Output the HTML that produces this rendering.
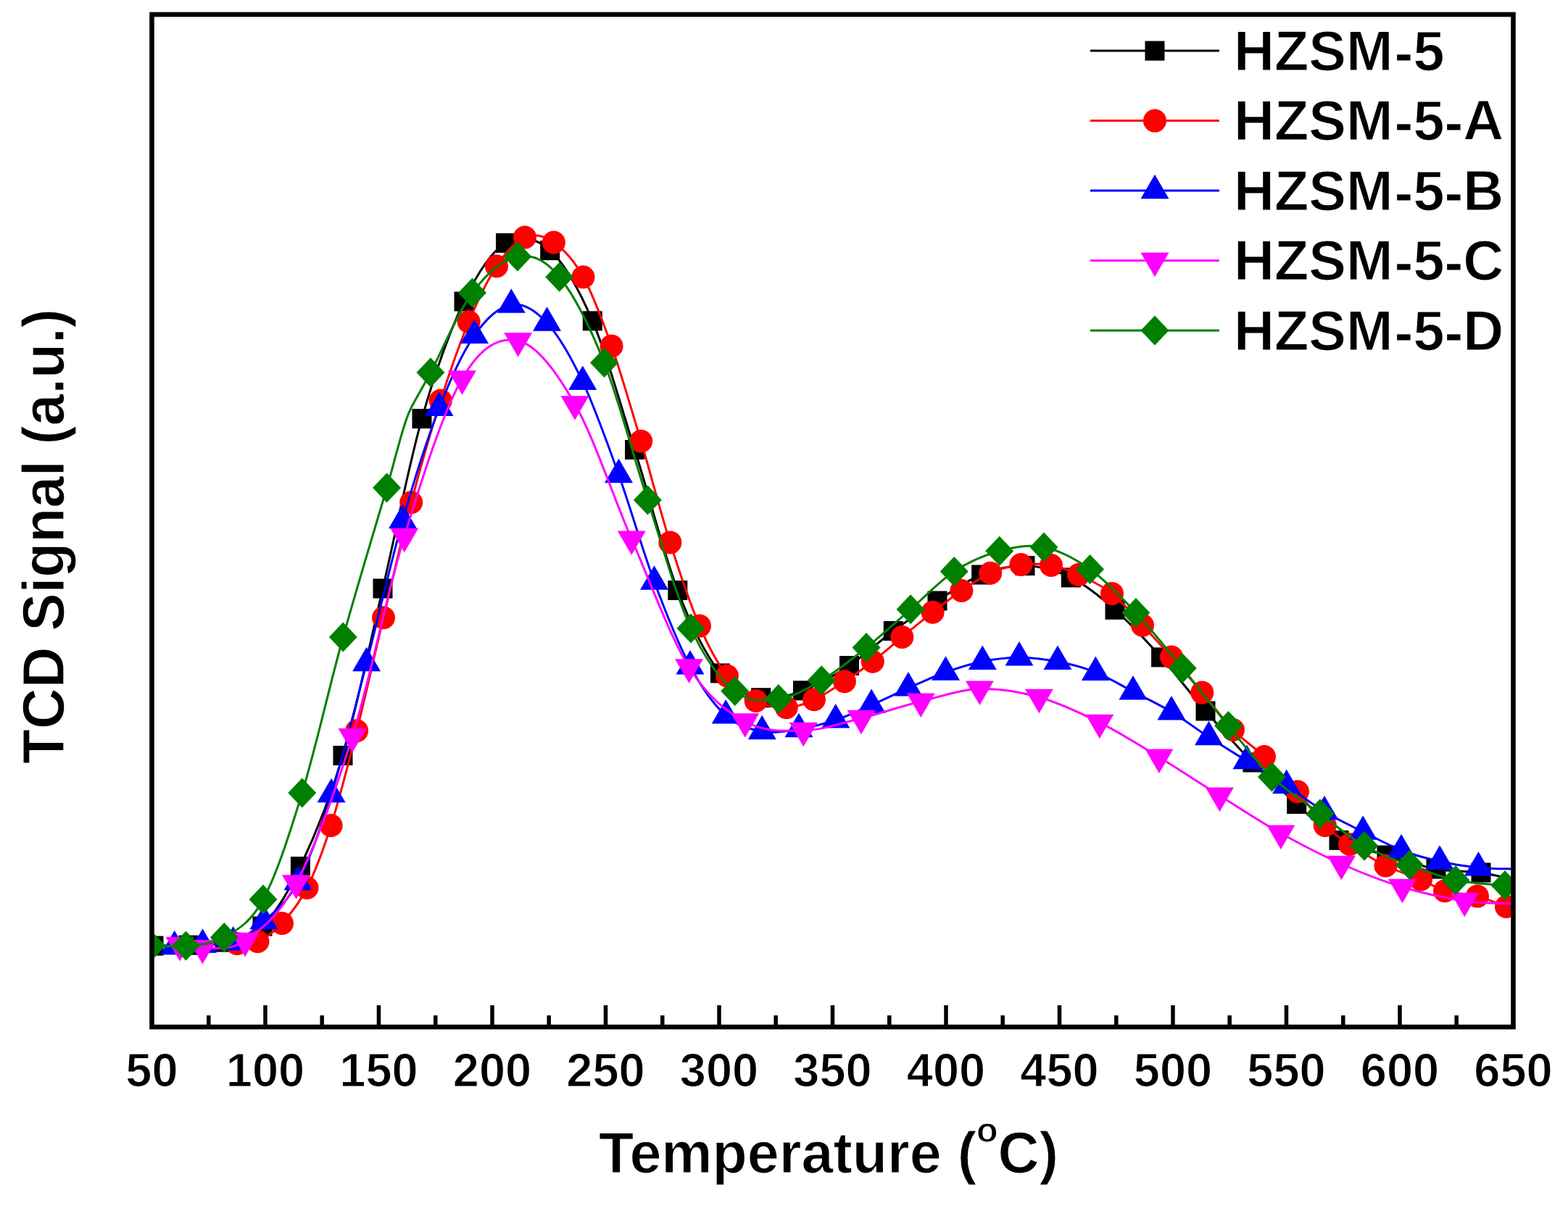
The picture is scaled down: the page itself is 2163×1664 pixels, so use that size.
<!DOCTYPE html><html><head><meta charset="utf-8"><title>TCD Signal vs Temperature</title><style>html,body{margin:0;padding:0;background:#fff;overflow:hidden}svg{display:block}</style></head><body><svg width="2163" height="1664" viewBox="0 0 2163 1664"><rect width="100%" height="100%" fill="#fff"/><defs><clipPath id="pc"><rect x="209.5" y="20.0" width="1878.0" height="1397.0"/></clipPath></defs><g clip-path="url(#pc)"><path d="M212.0,1305.0 C220.0,1304.8 243.7,1304.8 260.0,1304.0 C276.3,1303.2 293.0,1304.3 310.0,1300.0 C327.0,1295.7 344.6,1295.4 362.0,1278.0 C379.4,1260.6 395.9,1234.8 414.4,1195.5 C432.9,1156.2 454.1,1106.4 473.0,1042.5 C491.9,978.6 509.8,889.5 528.0,812.0 C546.2,734.5 563.3,643.7 582.0,577.7 C600.7,511.7 620.8,456.4 640.0,416.0 C659.2,375.6 677.7,347.1 697.5,335.3 C717.3,323.6 738.8,327.6 758.8,345.5 C778.7,363.4 797.8,397.0 817.3,442.8 C836.8,488.6 856.0,558.5 875.6,620.5 C895.2,682.5 915.2,763.1 934.8,814.5 C954.4,865.9 974.2,904.2 993.4,928.9 C1012.5,953.6 1030.7,958.7 1049.7,962.7 C1068.7,966.7 1087.2,960.2 1107.5,952.8 C1127.8,945.4 1150.7,932.2 1171.5,918.5 C1192.3,904.8 1212.0,885.4 1232.3,870.5 C1252.5,855.6 1272.8,841.9 1293.0,829.0 C1313.2,816.1 1333.6,801.1 1353.8,793.0 C1373.9,784.9 1393.4,780.0 1414.0,780.6 C1434.6,781.2 1456.6,786.8 1477.3,796.9 C1498.0,807.0 1517.3,822.9 1538.0,841.2 C1558.7,859.6 1580.8,883.6 1601.6,906.9 C1622.4,930.2 1641.9,956.8 1663.0,981.0 C1684.1,1005.2 1707.0,1030.6 1728.0,1052.0 C1749.0,1073.4 1768.9,1091.5 1788.8,1109.4 C1808.6,1127.3 1826.3,1147.5 1847.0,1159.3 C1867.7,1171.1 1890.7,1173.4 1913.0,1180.0 C1935.3,1186.6 1959.3,1195.0 1981.0,1199.0 C2002.7,1203.0 2025.2,1201.5 2043.0,1204.0 C2060.8,1206.5 2080.1,1212.3 2087.5,1214.0" fill="none" stroke="#000000" stroke-width="3" stroke-linejoin="round"/><g fill="#000000"><rect x="198.5" y="1291.5" width="27" height="27"/><rect x="246.5" y="1290.5" width="27" height="27"/><rect x="296.5" y="1286.5" width="27" height="27"/><rect x="348.5" y="1264.5" width="27" height="27"/><rect x="400.9" y="1182.0" width="27" height="27"/><rect x="459.5" y="1029.0" width="27" height="27"/><rect x="514.5" y="798.5" width="27" height="27"/><rect x="568.5" y="564.2" width="27" height="27"/><rect x="626.5" y="402.5" width="27" height="27"/><rect x="684.0" y="321.8" width="27" height="27"/><rect x="745.2" y="332.0" width="27" height="27"/><rect x="803.8" y="429.3" width="27" height="27"/><rect x="862.1" y="607.0" width="27" height="27"/><rect x="921.3" y="801.0" width="27" height="27"/><rect x="979.9" y="915.4" width="27" height="27"/><rect x="1036.2" y="949.2" width="27" height="27"/><rect x="1094.0" y="939.3" width="27" height="27"/><rect x="1158.0" y="905.0" width="27" height="27"/><rect x="1218.8" y="857.0" width="27" height="27"/><rect x="1279.5" y="815.5" width="27" height="27"/><rect x="1340.2" y="779.5" width="27" height="27"/><rect x="1400.5" y="767.1" width="27" height="27"/><rect x="1463.8" y="783.4" width="27" height="27"/><rect x="1524.5" y="827.8" width="27" height="27"/><rect x="1588.1" y="893.4" width="27" height="27"/><rect x="1649.5" y="967.5" width="27" height="27"/><rect x="1714.5" y="1038.5" width="27" height="27"/><rect x="1775.2" y="1095.9" width="27" height="27"/><rect x="1833.5" y="1145.8" width="27" height="27"/><rect x="1899.5" y="1166.5" width="27" height="27"/><rect x="1967.5" y="1185.5" width="27" height="27"/><rect x="2029.5" y="1190.5" width="27" height="27"/></g><path d="M327.0,1302.0 C331.8,1301.5 345.2,1303.7 355.5,1299.0 C365.8,1294.3 377.7,1286.3 389.0,1274.0 C400.3,1261.7 412.2,1247.5 423.5,1225.0 C434.8,1202.5 445.2,1175.1 456.6,1139.0 C468.0,1102.9 480.0,1056.1 492.1,1008.3 C504.2,960.5 516.5,904.7 529.0,852.2 C541.5,799.7 554.1,743.2 567.2,693.3 C580.3,643.4 594.5,594.2 607.8,552.7 C621.0,511.2 633.8,474.9 646.7,444.0 C659.6,413.1 672.1,386.7 685.0,367.3 C697.9,347.9 710.9,333.0 724.0,327.5 C737.1,322.0 750.5,325.4 763.9,334.5 C777.3,343.6 791.2,358.4 804.5,382.2 C817.8,406.0 830.3,439.7 843.6,477.5 C856.9,515.3 870.7,563.6 884.2,608.8 C897.7,653.9 910.9,706.1 924.4,748.6 C937.9,791.1 951.9,833.0 965.0,863.6 C978.1,894.2 990.0,915.3 1003.0,932.5 C1016.0,949.7 1029.1,959.6 1042.7,966.9 C1056.3,974.2 1071.4,976.5 1084.8,976.2 C1098.2,976.0 1109.6,971.3 1123.0,965.3 C1136.4,959.3 1151.5,949.0 1165.0,940.2 C1178.5,931.4 1190.5,922.9 1203.8,912.7 C1217.0,902.5 1230.6,890.3 1244.4,879.0 C1258.2,867.7 1272.9,855.4 1286.6,844.7 C1300.3,834.0 1313.1,824.0 1326.4,815.0 C1339.7,806.0 1352.6,796.8 1366.2,790.8 C1379.9,784.8 1394.4,780.8 1408.4,779.0 C1422.4,777.2 1436.7,777.7 1450.0,780.0 C1463.3,782.3 1474.0,786.5 1488.0,793.0 C1502.0,799.5 1519.3,807.4 1534.0,819.0 C1548.7,830.6 1562.3,848.2 1576.0,862.8 C1589.7,877.4 1602.3,891.1 1616.0,906.6 C1629.7,922.1 1644.1,938.9 1658.3,955.6 C1672.5,972.3 1686.7,992.3 1701.0,1007.0 C1715.3,1021.7 1729.2,1029.8 1744.0,1044.0 C1758.8,1058.2 1776.0,1076.4 1790.0,1092.2 C1804.0,1108.0 1815.8,1126.9 1827.8,1139.0 C1839.8,1151.1 1848.0,1155.8 1862.0,1165.0 C1876.0,1174.2 1895.2,1186.4 1911.5,1194.5 C1927.8,1202.6 1946.4,1207.6 1960.0,1213.4 C1973.6,1219.2 1980.0,1225.3 1993.0,1229.2 C2006.0,1233.1 2023.8,1233.0 2038.0,1236.6 C2052.2,1240.2 2069.8,1248.4 2078.0,1251.0 C2086.2,1253.6 2085.9,1251.8 2087.5,1252.0" fill="none" stroke="#ff0000" stroke-width="3" stroke-linejoin="round"/><g fill="#ff0000"><circle cx="327.0" cy="1302.0" r="16.0"/><circle cx="355.5" cy="1299.0" r="16.0"/><circle cx="389.0" cy="1274.0" r="16.0"/><circle cx="423.5" cy="1225.0" r="16.0"/><circle cx="456.6" cy="1139.0" r="16.0"/><circle cx="492.1" cy="1008.3" r="16.0"/><circle cx="529.0" cy="852.2" r="16.0"/><circle cx="567.2" cy="693.3" r="16.0"/><circle cx="607.8" cy="552.7" r="16.0"/><circle cx="646.7" cy="444.0" r="16.0"/><circle cx="685.0" cy="367.3" r="16.0"/><circle cx="724.0" cy="327.5" r="16.0"/><circle cx="763.9" cy="334.5" r="16.0"/><circle cx="804.5" cy="382.2" r="16.0"/><circle cx="843.6" cy="477.5" r="16.0"/><circle cx="884.2" cy="608.8" r="16.0"/><circle cx="924.4" cy="748.6" r="16.0"/><circle cx="965.0" cy="863.6" r="16.0"/><circle cx="1003.0" cy="932.5" r="16.0"/><circle cx="1042.7" cy="966.9" r="16.0"/><circle cx="1084.8" cy="976.2" r="16.0"/><circle cx="1123.0" cy="965.3" r="16.0"/><circle cx="1165.0" cy="940.2" r="16.0"/><circle cx="1203.8" cy="912.7" r="16.0"/><circle cx="1244.4" cy="879.0" r="16.0"/><circle cx="1286.6" cy="844.7" r="16.0"/><circle cx="1326.4" cy="815.0" r="16.0"/><circle cx="1366.2" cy="790.8" r="16.0"/><circle cx="1408.4" cy="779.0" r="16.0"/><circle cx="1450.0" cy="780.0" r="16.0"/><circle cx="1488.0" cy="793.0" r="16.0"/><circle cx="1534.0" cy="819.0" r="16.0"/><circle cx="1576.0" cy="862.8" r="16.0"/><circle cx="1616.0" cy="906.6" r="16.0"/><circle cx="1658.3" cy="955.6" r="16.0"/><circle cx="1701.0" cy="1007.0" r="16.0"/><circle cx="1744.0" cy="1044.0" r="16.0"/><circle cx="1790.0" cy="1092.2" r="16.0"/><circle cx="1827.8" cy="1139.0" r="16.0"/><circle cx="1862.0" cy="1165.0" r="16.0"/><circle cx="1911.5" cy="1194.5" r="16.0"/><circle cx="1960.0" cy="1213.4" r="16.0"/><circle cx="1993.0" cy="1229.2" r="16.0"/><circle cx="2038.0" cy="1236.6" r="16.0"/><circle cx="2078.0" cy="1251.0" r="16.0"/></g><path d="M240.7,1306.0 C247.2,1305.6 266.0,1304.4 279.5,1303.5 C293.0,1302.6 307.5,1305.8 321.6,1300.4 C335.7,1295.0 349.1,1284.9 364.0,1271.0 C378.9,1257.1 395.5,1246.2 411.0,1217.0 C426.5,1187.8 441.3,1146.3 457.1,1096.0 C472.9,1045.7 489.2,978.0 505.6,915.0 C522.0,852.0 538.8,776.7 555.5,718.0 C572.2,659.3 589.5,605.3 606.0,562.8 C622.5,520.2 638.0,486.4 654.5,462.7 C671.0,439.0 688.6,423.4 705.3,420.5 C722.0,417.6 738.1,427.8 754.5,445.5 C770.9,463.2 787.2,491.8 803.8,526.7 C820.2,561.6 837.0,609.0 853.5,655.0 C870.0,701.0 886.1,758.5 902.5,802.5 C918.9,846.5 935.5,888.4 952.0,919.2 C968.5,950.0 984.7,972.2 1001.2,987.2 C1017.8,1002.2 1034.5,1005.9 1051.2,1009.0 C1068.0,1012.1 1085.1,1008.6 1102.0,1006.0 C1118.9,1003.4 1136.1,998.9 1152.8,993.4 C1169.5,987.9 1185.5,980.1 1202.2,972.8 C1218.9,965.5 1236.0,956.9 1253.0,949.4 C1270.0,941.9 1287.5,933.6 1304.5,927.5 C1321.5,921.4 1338.4,916.1 1355.3,912.7 C1372.2,909.3 1388.7,907.2 1406.0,907.2 C1423.3,907.2 1441.4,909.4 1459.0,912.8 C1476.6,916.2 1494.1,920.8 1511.4,927.7 C1528.7,934.6 1545.6,945.1 1563.0,954.2 C1580.4,963.3 1598.6,971.8 1616.0,982.3 C1633.4,992.8 1650.2,1005.7 1667.5,1017.0 C1684.8,1028.3 1702.1,1038.8 1720.0,1050.0 C1737.9,1061.2 1756.9,1072.2 1774.7,1083.9 C1792.5,1095.6 1809.4,1109.4 1827.0,1120.0 C1844.6,1130.6 1862.5,1138.8 1880.2,1147.6 C1897.9,1156.4 1915.4,1166.2 1933.0,1173.0 C1950.6,1179.8 1968.2,1184.5 1986.0,1188.5 C2003.8,1192.5 2022.6,1195.5 2039.5,1197.2 C2056.4,1199.0 2079.5,1198.7 2087.5,1199.0" fill="none" stroke="#0000ff" stroke-width="3" stroke-linejoin="round"/><g fill="#0000ff"><path d="M240.7,1283.7L260.2,1317.2L221.2,1317.2Z"/><path d="M279.5,1281.2L299.0,1314.7L260.0,1314.7Z"/><path d="M321.6,1278.1L341.1,1311.6L302.1,1311.6Z"/><path d="M364.0,1248.7L383.5,1282.2L344.5,1282.2Z"/><path d="M411.0,1194.7L430.5,1228.2L391.5,1228.2Z"/><path d="M457.1,1073.7L476.6,1107.2L437.6,1107.2Z"/><path d="M505.6,892.7L525.1,926.2L486.1,926.2Z"/><path d="M555.5,695.7L575.0,729.2L536.0,729.2Z"/><path d="M606.0,540.5L625.5,574.0L586.5,574.0Z"/><path d="M654.5,440.4L674.0,473.9L635.0,473.9Z"/><path d="M705.3,398.2L724.8,431.7L685.8,431.7Z"/><path d="M754.5,423.2L774.0,456.7L735.0,456.7Z"/><path d="M803.8,504.4L823.2,537.9L784.2,537.9Z"/><path d="M853.5,632.7L873.0,666.2L834.0,666.2Z"/><path d="M902.5,780.2L922.0,813.7L883.0,813.7Z"/><path d="M952.0,896.9L971.5,930.4L932.5,930.4Z"/><path d="M1001.2,964.9L1020.8,998.4L981.8,998.4Z"/><path d="M1051.2,986.7L1070.8,1020.2L1031.8,1020.2Z"/><path d="M1102.0,983.7L1121.5,1017.2L1082.5,1017.2Z"/><path d="M1152.8,971.1L1172.3,1004.6L1133.3,1004.6Z"/><path d="M1202.2,950.5L1221.7,984.0L1182.7,984.0Z"/><path d="M1253.0,927.1L1272.5,960.6L1233.5,960.6Z"/><path d="M1304.5,905.2L1324.0,938.7L1285.0,938.7Z"/><path d="M1355.3,890.4L1374.8,923.9L1335.8,923.9Z"/><path d="M1406.0,884.9L1425.5,918.4L1386.5,918.4Z"/><path d="M1459.0,890.5L1478.5,924.0L1439.5,924.0Z"/><path d="M1511.4,905.4L1530.9,938.9L1491.9,938.9Z"/><path d="M1563.0,931.9L1582.5,965.4L1543.5,965.4Z"/><path d="M1616.0,960.0L1635.5,993.5L1596.5,993.5Z"/><path d="M1667.5,994.7L1687.0,1028.2L1648.0,1028.2Z"/><path d="M1720.0,1027.7L1739.5,1061.2L1700.5,1061.2Z"/><path d="M1774.7,1061.6L1794.2,1095.1L1755.2,1095.1Z"/><path d="M1827.0,1097.7L1846.5,1131.2L1807.5,1131.2Z"/><path d="M1880.2,1125.3L1899.7,1158.8L1860.7,1158.8Z"/><path d="M1933.0,1150.7L1952.5,1184.2L1913.5,1184.2Z"/><path d="M1986.0,1166.2L2005.5,1199.7L1966.5,1199.7Z"/><path d="M2039.5,1174.9L2059.0,1208.4L2020.0,1208.4Z"/></g><path d="M248.0,1304.0 C253.2,1304.7 264.4,1309.0 279.4,1308.0 C294.4,1307.0 316.5,1312.9 338.0,1298.0 C359.5,1283.1 383.8,1265.5 408.5,1218.5 C433.2,1171.5 461.2,1096.0 486.1,1016.2 C511.0,936.5 532.6,822.3 557.8,740.0 C583.0,657.7 611.4,567.5 637.5,522.5 C663.6,477.5 688.8,464.4 714.7,470.2 C740.6,476.0 766.9,511.9 793.0,557.5 C819.1,603.1 845.0,683.1 871.2,743.6 C897.5,804.1 924.4,878.5 950.5,920.5 C976.6,962.5 1001.5,980.9 1027.8,995.5 C1054.1,1010.1 1081.6,1008.8 1108.3,1008.0 C1135.0,1007.2 1161.0,997.7 1188.0,991.0 C1215.0,984.3 1243.0,974.5 1270.2,967.8 C1297.4,961.1 1324.2,951.6 1351.4,950.6 C1378.6,949.6 1405.8,954.3 1433.4,962.0 C1461.0,969.7 1489.3,983.1 1516.9,996.9 C1544.5,1010.7 1571.4,1027.9 1599.0,1044.7 C1626.6,1061.5 1654.5,1080.3 1682.5,1097.8 C1710.5,1115.3 1738.9,1134.0 1766.9,1149.7 C1794.9,1165.4 1822.5,1179.6 1850.4,1192.0 C1878.3,1204.4 1906.2,1215.5 1934.5,1224.0 C1962.8,1232.5 1994.8,1239.2 2020.3,1243.0 C2045.8,1246.8 2076.3,1246.3 2087.5,1247.0" fill="none" stroke="#ff00ff" stroke-width="3" stroke-linejoin="round"/><g fill="#ff00ff"><path d="M248.0,1326.3L267.5,1292.8L228.5,1292.8Z"/><path d="M279.4,1330.3L298.9,1296.8L259.9,1296.8Z"/><path d="M338.0,1320.3L357.5,1286.8L318.5,1286.8Z"/><path d="M408.5,1240.8L428.0,1207.3L389.0,1207.3Z"/><path d="M486.1,1038.5L505.6,1005.0L466.6,1005.0Z"/><path d="M557.8,762.3L577.3,728.8L538.3,728.8Z"/><path d="M637.5,544.8L657.0,511.3L618.0,511.3Z"/><path d="M714.7,492.5L734.2,459.0L695.2,459.0Z"/><path d="M793.0,579.8L812.5,546.3L773.5,546.3Z"/><path d="M871.2,765.9L890.8,732.4L851.8,732.4Z"/><path d="M950.5,942.8L970.0,909.3L931.0,909.3Z"/><path d="M1027.8,1017.8L1047.3,984.3L1008.3,984.3Z"/><path d="M1108.3,1030.3L1127.8,996.8L1088.8,996.8Z"/><path d="M1188.0,1013.3L1207.5,979.8L1168.5,979.8Z"/><path d="M1270.2,990.1L1289.7,956.6L1250.7,956.6Z"/><path d="M1351.4,972.9L1370.9,939.4L1331.9,939.4Z"/><path d="M1433.4,984.3L1452.9,950.8L1413.9,950.8Z"/><path d="M1516.9,1019.2L1536.4,985.7L1497.4,985.7Z"/><path d="M1599.0,1067.0L1618.5,1033.5L1579.5,1033.5Z"/><path d="M1682.5,1120.1L1702.0,1086.6L1663.0,1086.6Z"/><path d="M1766.9,1172.0L1786.4,1138.5L1747.4,1138.5Z"/><path d="M1850.4,1214.3L1869.9,1180.8L1830.9,1180.8Z"/><path d="M1934.5,1246.3L1954.0,1212.8L1915.0,1212.8Z"/><path d="M2020.3,1265.3L2039.8,1231.8L2000.8,1231.8Z"/></g><path d="M209.0,1305.0 C216.9,1305.0 239.7,1306.9 256.4,1305.0 C273.1,1303.1 291.5,1304.2 309.3,1293.5 C327.1,1282.8 345.1,1274.2 363.0,1241.0 C380.9,1207.8 398.4,1154.3 416.8,1094.0 C435.2,1033.7 453.8,949.2 473.3,879.0 C492.8,808.8 521.5,714.8 533.6,673.0 C545.7,631.2 542.0,642.2 546.0,628.0 C550.0,613.8 553.9,599.0 557.5,588.0 C561.1,577.0 561.4,574.3 567.5,562.0 C573.6,549.7 580.0,540.3 594.0,514.0 C608.0,487.7 631.5,430.7 651.5,404.0 C671.5,377.3 693.9,357.6 713.9,354.0 C733.9,350.4 751.8,357.8 771.7,382.2 C791.6,406.6 813.2,449.2 833.5,500.5 C853.8,551.8 873.5,628.9 893.4,690.0 C913.3,751.1 932.9,823.1 953.0,867.0 C973.1,910.9 993.6,937.4 1013.8,953.6 C1033.9,969.9 1054.0,967.0 1073.9,964.5 C1093.8,962.0 1113.1,950.6 1133.3,938.8 C1153.5,926.9 1174.6,909.9 1195.1,893.6 C1215.6,877.3 1235.9,858.3 1256.1,840.8 C1276.3,823.3 1295.8,801.8 1316.2,788.4 C1336.7,775.0 1358.1,765.9 1378.8,760.3 C1399.4,754.7 1419.2,750.8 1440.0,755.0 C1460.8,759.2 1482.4,770.4 1503.6,785.5 C1524.8,800.6 1545.6,822.9 1566.9,845.6 C1588.2,868.4 1610.0,896.0 1631.3,922.0 C1652.6,948.0 1674.0,976.5 1694.5,1001.5 C1715.0,1026.5 1733.4,1051.7 1754.5,1071.9 C1775.6,1092.1 1799.8,1106.8 1821.0,1122.7 C1842.2,1138.6 1861.4,1155.5 1882.0,1167.3 C1902.6,1179.1 1923.5,1185.6 1944.5,1193.5 C1965.5,1201.4 1986.1,1209.8 2008.0,1214.5 C2029.9,1219.2 2062.8,1220.2 2076.0,1221.5 C2089.2,1222.8 2085.6,1221.9 2087.5,1222.0" fill="none" stroke="#008000" stroke-width="3" stroke-linejoin="round"/><g fill="#008000"><path d="M209.0,1284.5L228.5,1305.0L209.0,1325.5L189.5,1305.0Z"/><path d="M256.4,1284.5L275.9,1305.0L256.4,1325.5L236.9,1305.0Z"/><path d="M309.3,1273.0L328.8,1293.5L309.3,1314.0L289.8,1293.5Z"/><path d="M363.0,1220.5L382.5,1241.0L363.0,1261.5L343.5,1241.0Z"/><path d="M416.8,1073.5L436.3,1094.0L416.8,1114.5L397.3,1094.0Z"/><path d="M473.3,858.5L492.8,879.0L473.3,899.5L453.8,879.0Z"/><path d="M533.6,652.5L553.1,673.0L533.6,693.5L514.1,673.0Z"/><path d="M594.0,493.5L613.5,514.0L594.0,534.5L574.5,514.0Z"/><path d="M651.5,383.5L671.0,404.0L651.5,424.5L632.0,404.0Z"/><path d="M713.9,333.5L733.4,354.0L713.9,374.5L694.4,354.0Z"/><path d="M771.7,361.7L791.2,382.2L771.7,402.7L752.2,382.2Z"/><path d="M833.5,480.0L853.0,500.5L833.5,521.0L814.0,500.5Z"/><path d="M893.4,669.5L912.9,690.0L893.4,710.5L873.9,690.0Z"/><path d="M953.0,846.5L972.5,867.0L953.0,887.5L933.5,867.0Z"/><path d="M1013.8,933.1L1033.2,953.6L1013.8,974.1L994.2,953.6Z"/><path d="M1073.9,944.0L1093.4,964.5L1073.9,985.0L1054.4,964.5Z"/><path d="M1133.3,918.2L1152.8,938.8L1133.3,959.2L1113.8,938.8Z"/><path d="M1195.1,873.1L1214.6,893.6L1195.1,914.1L1175.6,893.6Z"/><path d="M1256.1,820.3L1275.6,840.8L1256.1,861.3L1236.6,840.8Z"/><path d="M1316.2,767.9L1335.8,788.4L1316.2,808.9L1296.8,788.4Z"/><path d="M1378.8,739.8L1398.2,760.3L1378.8,780.8L1359.2,760.3Z"/><path d="M1440.0,734.5L1459.5,755.0L1440.0,775.5L1420.5,755.0Z"/><path d="M1503.6,765.0L1523.1,785.5L1503.6,806.0L1484.1,785.5Z"/><path d="M1566.9,825.1L1586.4,845.6L1566.9,866.1L1547.4,845.6Z"/><path d="M1631.3,901.5L1650.8,922.0L1631.3,942.5L1611.8,922.0Z"/><path d="M1694.5,981.0L1714.0,1001.5L1694.5,1022.0L1675.0,1001.5Z"/><path d="M1754.5,1051.4L1774.0,1071.9L1754.5,1092.4L1735.0,1071.9Z"/><path d="M1821.0,1102.2L1840.5,1122.7L1821.0,1143.2L1801.5,1122.7Z"/><path d="M1882.0,1146.8L1901.5,1167.3L1882.0,1187.8L1862.5,1167.3Z"/><path d="M1944.5,1173.0L1964.0,1193.5L1944.5,1214.0L1925.0,1193.5Z"/><path d="M2008.0,1194.0L2027.5,1214.5L2008.0,1235.0L1988.5,1214.5Z"/><path d="M2076.0,1201.0L2095.5,1221.5L2076.0,1242.0L2056.5,1221.5Z"/></g></g><rect x="209.5" y="20.0" width="1878.0" height="1397.0" fill="none" stroke="#000" stroke-width="6.6"/><path d="M287.8,1417.0V1401.0M366.0,1417.0V1387.0M444.2,1417.0V1401.0M522.5,1417.0V1387.0M600.8,1417.0V1401.0M679.0,1417.0V1387.0M757.2,1417.0V1401.0M835.5,1417.0V1387.0M913.8,1417.0V1401.0M992.0,1417.0V1387.0M1070.2,1417.0V1401.0M1148.5,1417.0V1387.0M1226.8,1417.0V1401.0M1305.0,1417.0V1387.0M1383.2,1417.0V1401.0M1461.5,1417.0V1387.0M1539.8,1417.0V1401.0M1618.0,1417.0V1387.0M1696.2,1417.0V1401.0M1774.5,1417.0V1387.0M1852.8,1417.0V1401.0M1931.0,1417.0V1387.0M2009.2,1417.0V1401.0" stroke="#000" stroke-width="5.5" fill="none"/><g font-family="Liberation Sans, Arial, sans-serif" font-weight="bold" stroke="#fff" stroke-width="1.2" font-size="65" fill="#000"><text x="209.5" y="1498.5" text-anchor="middle">50</text><text x="366.0" y="1498.5" text-anchor="middle">100</text><text x="522.5" y="1498.5" text-anchor="middle">150</text><text x="679.0" y="1498.5" text-anchor="middle">200</text><text x="835.5" y="1498.5" text-anchor="middle">250</text><text x="992.0" y="1498.5" text-anchor="middle">300</text><text x="1148.5" y="1498.5" text-anchor="middle">350</text><text x="1305.0" y="1498.5" text-anchor="middle">400</text><text x="1461.5" y="1498.5" text-anchor="middle">450</text><text x="1618.0" y="1498.5" text-anchor="middle">500</text><text x="1774.5" y="1498.5" text-anchor="middle">550</text><text x="1931.0" y="1498.5" text-anchor="middle">600</text><text x="2087.5" y="1498.5" text-anchor="middle">650</text></g><text font-family="Liberation Sans, Arial, sans-serif" font-weight="bold" stroke="#fff" stroke-width="1.2" font-size="79" x="826" y="1618">Temperature (<tspan font-size="48.5" dy="-42">o</tspan><tspan dy="42">C)</tspan></text><text font-family="Liberation Sans, Arial, sans-serif" font-weight="bold" stroke="#fff" stroke-width="1.2" font-size="78.5" transform="translate(88,740) rotate(-90) scale(1,1.04)" text-anchor="middle">TCD Signal (a.u.)</text><path d="M1504,70.1H1682" stroke="#000000" stroke-width="3"/><g fill="#000000"><rect x="1579.5" y="56.6" width="27" height="27"/></g><text font-family="Liberation Sans, Arial, sans-serif" font-weight="bold" stroke="#fff" stroke-width="1.2" font-size="77.5" x="1702" y="96.6">HZSM<tspan dx="2" dy="3">-</tspan><tspan dy="-3">5</tspan></text><path d="M1504,166.6H1682" stroke="#ff0000" stroke-width="3"/><g fill="#ff0000"><circle cx="1593.0" cy="166.6" r="16.0"/></g><text font-family="Liberation Sans, Arial, sans-serif" font-weight="bold" stroke="#fff" stroke-width="1.2" font-size="77.5" x="1702" y="193.1">HZSM<tspan dx="2" dy="3">-</tspan><tspan dy="-3">5</tspan><tspan dx="0" dy="3">-</tspan><tspan dy="-3">A</tspan></text><path d="M1504,263.1H1682" stroke="#0000ff" stroke-width="3"/><g fill="#0000ff"><path d="M1593.0,240.8L1612.5,274.3L1573.5,274.3Z"/></g><text font-family="Liberation Sans, Arial, sans-serif" font-weight="bold" stroke="#fff" stroke-width="1.2" font-size="77.5" x="1702" y="289.6">HZSM<tspan dx="2" dy="3">-</tspan><tspan dy="-3">5</tspan><tspan dx="0" dy="3">-</tspan><tspan dy="-3">B</tspan></text><path d="M1504,359.6H1682" stroke="#ff00ff" stroke-width="3"/><g fill="#ff00ff"><path d="M1593.0,381.9L1612.5,348.4L1573.5,348.4Z"/></g><text font-family="Liberation Sans, Arial, sans-serif" font-weight="bold" stroke="#fff" stroke-width="1.2" font-size="77.5" x="1702" y="386.1">HZSM<tspan dx="2" dy="3">-</tspan><tspan dy="-3">5</tspan><tspan dx="0" dy="3">-</tspan><tspan dy="-3">C</tspan></text><path d="M1504,456.1H1682" stroke="#008000" stroke-width="3"/><g fill="#008000"><path d="M1593.0,435.6L1612.5,456.1L1593.0,476.6L1573.5,456.1Z"/></g><text font-family="Liberation Sans, Arial, sans-serif" font-weight="bold" stroke="#fff" stroke-width="1.2" font-size="77.5" x="1702" y="482.6">HZSM<tspan dx="2" dy="3">-</tspan><tspan dy="-3">5</tspan><tspan dx="0" dy="3">-</tspan><tspan dy="-3">D</tspan></text></svg></body></html>
